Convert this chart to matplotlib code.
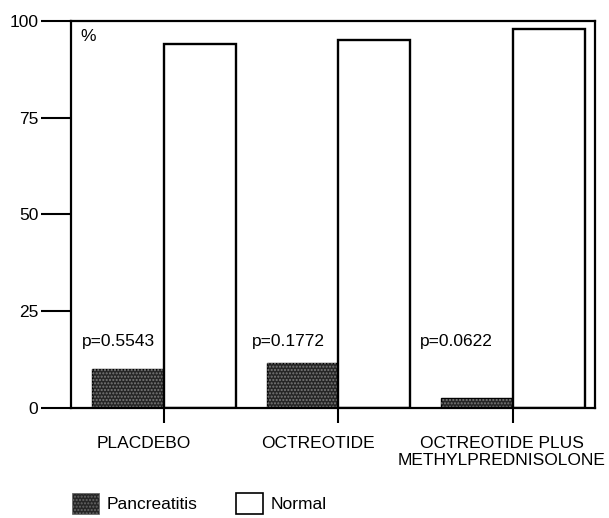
import numpy as np
import matplotlib
matplotlib.use("Agg")
import matplotlib.pyplot as plt
from matplotlib.patches import Patch
from matplotlib.transforms import ScaledTranslation

plt.rcParams['font.family'] = ['Liberation Sans', 'DejaVu Sans']

# values
groups = ["PLACDEBO", "OCTREOTIDE", "OCTREOTIDE PLUS\nMETHYLPREDNISOLONE"]
pancreatitis = [10.0, 11.6, 2.6]
normal = [94.0, 95.1, 97.9]
p_values = ["p=0.5543", "p=0.1772", "p=0.0622"]
yticks = [0, 25, 50, 75, 100]

FS = 12.5
x = np.arange(len(groups))
w = 0.41

fig = plt.figure(figsize=(6.09, 5.18), dpi=100)
ax = fig.add_axes([0.1166, 0.2124, 0.8604, 0.7471])

# pancreatitis: dark stippled fill
ax.bar(x, pancreatitis, width=-w, align='edge', color='#262626',
       edgecolor='black', linewidth=1.0)
ax.bar(x, pancreatitis, width=-w, align='edge', color='none',
       edgecolor='#7a7a7a', hatch='.....', linewidth=0)
ax.bar(x, normal, width=w, align='edge', color='white',
       edgecolor='black', linewidth=1.7)

# p-value labels
p_offsets = [-0.47, -0.496, -0.533]
for xi, off, lab in zip(x, p_offsets, p_values):
    ax.text(xi + off, 17.3, lab, fontsize=FS, va='center', ha='left')

ax.text(0.017, 0.961, "%", transform=ax.transAxes, fontsize=FS,
        va='center', ha='left')

ax.set_xlim(-0.533, 2.47)
ax.set_ylim(0, 100)
ax.set_yticks(yticks)
ax.set_yticklabels([str(t) for t in yticks], fontsize=FS)
ax.set_xticks(x)
ax.set_xticklabels(groups, fontsize=FS, linespacing=1.2)
ax.tick_params(axis='y', direction='out', length=21.6, width=1.5, pad=2)
ax.tick_params(axis='x', direction='out', length=11, width=1.5, pad=9)
for s in ax.spines.values():
    s.set_linewidth(1.6)

# the category labels sit a bit left of their ticks in the original
label_shift = [-20, -21, -11]
for lab, dx in zip(ax.get_xticklabels(), label_shift):
    lab.set_transform(lab.get_transform() + ScaledTranslation(dx / 100, 0, fig.dpi_scale_trans))

handles = [Patch(facecolor='#262626', edgecolor='#666666', hatch='.....',
                 linewidth=0.5, label='Pancreatitis'),
           Patch(facecolor='white', edgecolor='black', linewidth=1.2,
                 label='Normal')]
fig.legend(handles=handles, loc='upper left',
           bbox_to_anchor=(0.118, 1 - 493 / 518),
           bbox_transform=fig.transFigure, ncol=2, frameon=False,
           fontsize=FS, handlelength=1.55, handleheight=1.45,
           handletextpad=0.46, columnspacing=2.2, borderpad=0, borderaxespad=0)

fig.savefig("out.png", dpi=100)
